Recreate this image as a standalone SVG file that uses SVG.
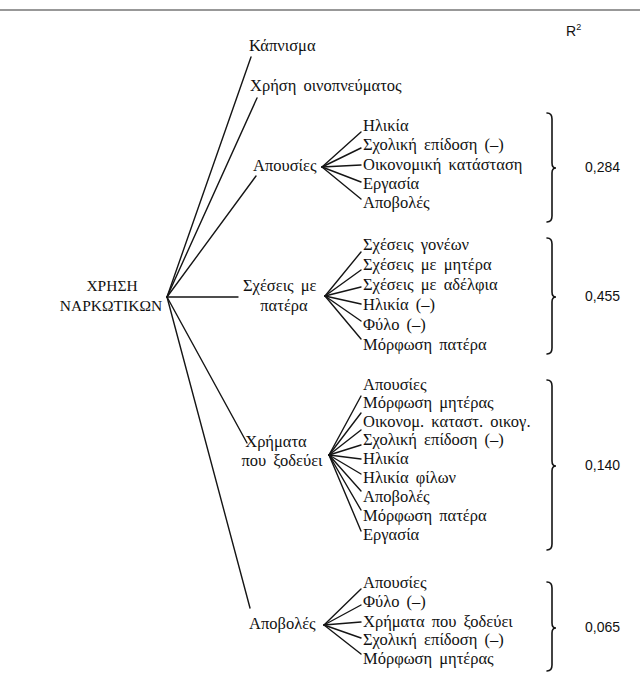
<svg xmlns="http://www.w3.org/2000/svg" width="640" height="679" viewBox="0 0 640 679">
<style>
text{font-family:"Liberation Serif","Times New Roman",serif;font-size:16.5px;fill:#111}
.w{word-spacing:3px}
.r{font-size:15.5px;text-anchor:middle}
.n{font-family:"Liberation Sans","DejaVu Sans",sans-serif;font-size:14px}
.c line{stroke:#151515;stroke-width:1.4;stroke-linecap:round}
.b{fill:none;stroke:#151515;stroke-width:1.6;stroke-linecap:round}
</style>
<rect width="640" height="679" fill="#fff"/>
<line x1="0" y1="10" x2="640" y2="10" stroke="#333" stroke-width="1.2"/>
<text class="n" x="566" y="36">R<tspan font-size="9" dy="-6">2</tspan></text>

<g class="c" id="connectors">
<line x1="167" y1="297" x2="251" y2="57"/>
<line x1="167" y1="297" x2="257" y2="98"/>
<line x1="167" y1="297" x2="256" y2="176"/>
<line x1="167" y1="297" x2="238" y2="297"/>
<line x1="167" y1="297" x2="247" y2="443"/>
<line x1="167" y1="297" x2="250" y2="608"/>
<line x1="322" y1="167" x2="361" y2="132"/>
<line x1="322" y1="167" x2="361" y2="148"/>
<line x1="322" y1="167" x2="361" y2="165"/>
<line x1="322" y1="167" x2="361" y2="182"/>
<line x1="322" y1="167" x2="361" y2="199"/>
<line x1="325" y1="296" x2="361" y2="252"/>
<line x1="325" y1="296" x2="361" y2="270"/>
<line x1="325" y1="296" x2="361" y2="287"/>
<line x1="325" y1="296" x2="361" y2="304"/>
<line x1="325" y1="296" x2="361" y2="321"/>
<line x1="325" y1="296" x2="361" y2="339"/>
<line x1="329" y1="455" x2="361" y2="396"/>
<line x1="329" y1="455" x2="361" y2="413"/>
<line x1="329" y1="455" x2="361" y2="430"/>
<line x1="329" y1="455" x2="361" y2="445"/>
<line x1="329" y1="455" x2="361" y2="459"/>
<line x1="329" y1="455" x2="361" y2="474"/>
<line x1="329" y1="455" x2="361" y2="491"/>
<line x1="329" y1="455" x2="361" y2="510"/>
<line x1="329" y1="455" x2="361" y2="531"/>
<line x1="324" y1="625" x2="361" y2="589"/>
<line x1="324" y1="625" x2="361" y2="605"/>
<line x1="324" y1="625" x2="361" y2="622"/>
<line x1="324" y1="625" x2="361" y2="638"/>
<line x1="324" y1="625" x2="361" y2="654"/>
</g>

<g id="root"><text class="r" x="112" y="291">ΧΡΗΣΗ</text><text class="r" x="111" y="311">ΝΑΡΚΩΤΙΚΩΝ</text></g>
<g id="kapnisma"><text x="249" y="51">Κάπνισμα</text></g>
<g id="oinopneuma"><text x="250" y="91" class="w">Χρήση οινοπνεύματος</text></g>

<g id="apousies"><text x="253" y="171">Απουσίες</text></g>
<g id="apousies-children" class="w">
<text x="363" y="131">Ηλικία</text>
<text x="363" y="150">Σχολική επίδοση (–)</text>
<text x="363" y="170">Οικονομική κατάσταση</text>
<text x="363" y="189">Εργασία</text>
<text x="363" y="208">Αποβολές</text>
</g>
<g id="brace1"><path class="b" d="M547,113 Q552,113 552,119 L552,163 Q552,168 556,168 Q552,168 552,173 L552,216 Q552,222 547,222"/><text class="n" x="585" y="172">0,284</text></g>

<g id="scheseis"><text x="243" y="291" class="w">Σχέσεις με</text><text x="284" y="311" text-anchor="middle">πατέρα</text></g>
<g id="scheseis-children" class="w">
<text x="363" y="250">Σχέσεις γονέων</text>
<text x="363" y="270">Σχέσεις με μητέρα</text>
<text x="363" y="290">Σχέσεις με αδέλφια</text>
<text x="363" y="310">Ηλικία (–)</text>
<text x="363" y="330">Φύλο (–)</text>
<text x="363" y="350">Μόρφωση πατέρα</text>
</g>
<g id="brace2"><path class="b" d="M547,238 Q552,238 552,244 L552,292 Q552,297 556,297 Q552,297 552,302 L552,348 Q552,354 547,354"/><text class="n" x="585" y="301">0,455</text></g>

<g id="chrimata"><text x="276" y="447" text-anchor="middle">Χρήματα</text><text x="282" y="466" text-anchor="middle" class="w">που ξοδεύει</text></g>
<g id="chrimata-children" class="w">
<text x="363" y="390">Απουσίες</text>
<text x="363" y="408">Μόρφωση μητέρας</text>
<text x="363" y="427">Οικονομ. καταστ. οικογ.</text>
<text x="363" y="445">Σχολική επίδοση (–)</text>
<text x="363" y="464">Ηλικία</text>
<text x="363" y="483">Ηλικία φίλων</text>
<text x="363" y="502">Αποβολές</text>
<text x="363" y="521">Μόρφωση πατέρα</text>
<text x="363" y="540">Εργασία</text>
</g>
<g id="brace3"><path class="b" d="M547,380 Q552,380 552,386 L552,461 Q552,466 556,466 Q552,466 552,471 L552,544 Q552,550 547,550"/><text class="n" x="585" y="470">0,140</text></g>

<g id="apovoles"><text x="249" y="629">Αποβολές</text></g>
<g id="apovoles-children" class="w">
<text x="363" y="588">Απουσίες</text>
<text x="363" y="607">Φύλο (–)</text>
<text x="363" y="627">Χρήματα που ξοδεύει</text>
<text x="363" y="645">Σχολική επίδοση (–)</text>
<text x="363" y="664">Μόρφωση μητέρας</text>
</g>
<g id="brace4"><path class="b" d="M547,582 Q552,582 552,588 L552,623 Q552,628 556,628 Q552,628 552,633 L552,665 Q552,671 547,671"/><text class="n" x="585" y="632">0,065</text></g>
</svg>
